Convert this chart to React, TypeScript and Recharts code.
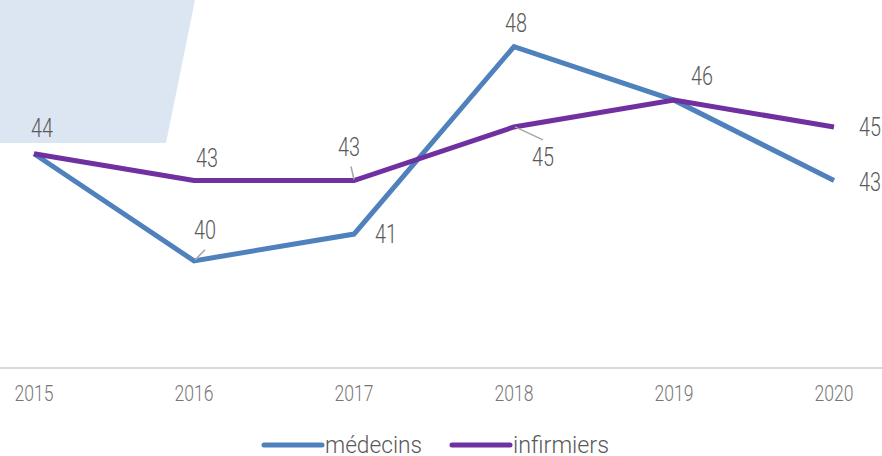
import React from "react";
import { LabelList, Legend, Line, LineChart, XAxis, YAxis } from "recharts";

const years = ["2015", "2016", "2017", "2018", "2019", "2020"];
const medecins = [44, 40, 41, 48, 46, 43];
const infirmiers = [44, 43, 43, 45, 46, 45];

const BLUE = "#4f81bd";
const PURPLE = "#7030a0";
const FONT = "Roboto, 'DejaVu Sans Condensed', sans-serif";

const data = years.map((y, i) => ({ year: y, medecins: medecins[i], infirmiers: infirmiers[i] }));

// label offsets from the point (text centre), optional leader line
type Off = { dx: number; dy: number; lead?: [number, number, number, number] } | null;
const medOffsets: Off[] = [
  { dx: 8, dy: -25 },
  { dx: 11, dy: -30, lead: [11, -11, 1, -1] },
  { dx: 32, dy: 0 },
  { dx: 2, dy: -23 },
  { dx: 28, dy: -24 },
  { dx: 36, dy: 2 },
];
const infOffsets: Off[] = [
  null,
  { dx: 13, dy: -22 },
  { dx: -5, dy: -33, lead: [-3, -14, 0, -1] },
  { dx: 29, dy: 31, lead: [1, 0, 29, 13] },
  null,
  { dx: 36, dy: 1 },
];

const makeLabel = (offsets: Off[]) => (props: any) => {
  const { x, y, value, index } = props;
  const o = offsets[index];
  if (!o) return null;
  return (
    <g>
      {o.lead && (
        <line
          x1={x + o.lead[0]}
          y1={y + o.lead[1]}
          x2={x + o.lead[2]}
          y2={y + o.lead[3]}
          stroke="#a6a6a6"
          strokeWidth={1.5}
        />
      )}
      <text
        x={x + o.dx}
        y={y + o.dy}
        textAnchor="middle"
        dominantBaseline="central"
        fontFamily={FONT}
        fontWeight={300}
        fontSize={25}
        fill="#595959"
        textLength={22}
        lengthAdjust="spacingAndGlyphs"
      >
        {value}
      </text>
    </g>
  );
};

const YearTick = (props: any) => {
  const { x, y, payload } = props;
  return (
    <text
      x={x}
      y={y + 17}
      textAnchor="middle"
      dominantBaseline="central"
      fontFamily={FONT}
      fontWeight={300}
      fontSize={22}
      fill="#767676"
      textLength={39}
      lengthAdjust="spacingAndGlyphs"
    >
      {payload.value}
    </text>
  );
};

const legendItems = [
  { label: "médecins", color: BLUE, x1: 264, x2: 322, w: 97 },
  { label: "infirmiers", color: PURPLE, x1: 452, x2: 510, w: 96 },
];

const renderLegend = () => (
  <svg width={882} height={30} style={{ display: "block" }}>
    {legendItems.map((it) => (
      <g key={it.label}>
        <line x1={it.x1} y1={15} x2={it.x2} y2={15} stroke={it.color} strokeWidth={5} strokeLinecap="round" />
        <text
          x={it.x2 + 3}
          y={15}
          dominantBaseline="central"
          fontFamily={FONT}
          fontWeight={300}
          fontSize={24}
          fill="#595959"
          textLength={it.w}
          lengthAdjust="spacingAndGlyphs"
        >
          {it.label}
        </text>
      </g>
    ))}
  </svg>
);

export default function App() {
  return (
    <div style={{ position: "absolute", left: 0, top: 0, width: 882, height: 456, overflow: "hidden", background: "#fff" }}>
      <svg width={882} height={456} style={{ position: "absolute", left: 0, top: 0 }}>
        <polygon points="0,0 195,0 166,143 0,143" fill="#dce6f2" />
      </svg>
      <div style={{ position: "absolute", left: 0, top: -7 }}>
        <LineChart width={882} height={467} data={data} margin={{ top: 0, right: 0, left: 0, bottom: 0 }}>
          <XAxis
            dataKey="year"
            height={62}
            padding={{ left: 34, right: 48 }}
            axisLine={{ stroke: "#d9d9d9", strokeWidth: 2 }}
            tickLine={false}
            tick={<YearTick />}
            interval={0}
          />
          <YAxis hide domain={[36, 50]} width={0} />
          <Legend verticalAlign="bottom" height={30} content={renderLegend} />
          <Line
            dataKey="medecins"
            name="médecins"
            stroke={BLUE}
            strokeWidth={5}
            dot={false}
            activeDot={false}
            isAnimationActive={false}
          >
            <LabelList dataKey="medecins" content={makeLabel(medOffsets)} />
          </Line>
          <Line
            dataKey="infirmiers"
            name="infirmiers"
            stroke={PURPLE}
            strokeWidth={5}
            dot={false}
            activeDot={false}
            isAnimationActive={false}
          >
            <LabelList dataKey="infirmiers" content={makeLabel(infOffsets)} />
          </Line>
        </LineChart>
      </div>
    </div>
  );
}
